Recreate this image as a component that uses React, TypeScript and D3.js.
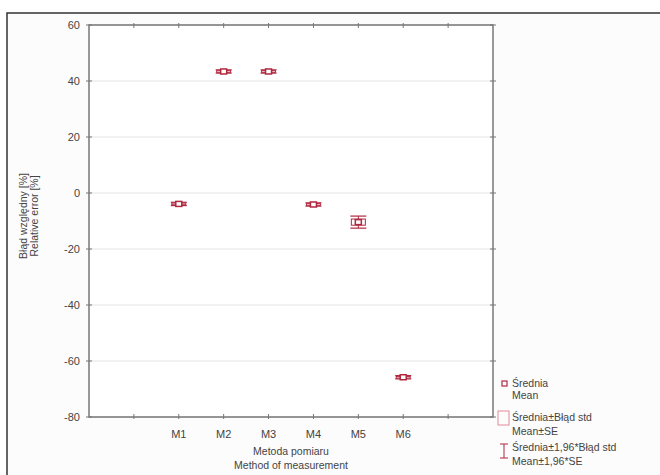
import React from "react";
import * as d3 from "d3";

const categories = ["", "M1", "M2", "M3", "M4", "M5", "M6", ""];
const methods = ["M1", "M2", "M3", "M4", "M5", "M6"];
const means = [-3.9, 43.4, 43.4, -4.1, -10.4, -65.8];
const stdErr = [0.3, 0.3, 0.3, 0.3, 1.1, 0.3];
const yTicks = [60, 40, 20, 0, -20, -40, -60, -80];

const W = 660, H = 475;
const M = { left: 89, top: 25, right: 493, bottom: 417 };
const red = "#b0283f";
const font = "'Liberation Sans', Arial, sans-serif";

export default function App() {
  const x = d3.scalePoint<string>().domain(categories.map((c, i) => String(i))).range([M.left, M.right]).padding(1);
  const y = d3.scaleLinear().domain([-80, 60]).range([M.bottom, M.top]);
  const xi = (i: number) => x(String(i)) as number;

  return (
    <svg width={W} height={H} style={{ position: "absolute", left: 0, top: 0, background: "#fff" }} fontFamily={font}>
      <rect x={7} y={13} width={700} height={500} fill="#fcfcfc" stroke="#333" strokeWidth={1.5} />
      <rect x={M.left} y={M.top} width={M.right - M.left} height={M.bottom - M.top} fill="#fff" />
      {yTicks.map((t) => (
        <g key={t}>
          <line x1={M.left} x2={M.right} y1={y(t)} y2={y(t)} stroke="#ececec" strokeWidth={1.5} />
          <line x1={M.left - 3} x2={M.left + 3} y1={y(t)} y2={y(t)} stroke="#777" />
          <line x1={M.right - 3} x2={M.right + 3} y1={y(t)} y2={y(t)} stroke="#777" />
          <text x={M.left - 9} y={y(t)} dy="0.35em" textAnchor="end" fontSize={11} fill="#444">{t}</text>
        </g>
      ))}
      {categories.map((c, i) => (
        <g key={i}>
          <line x1={xi(i)} x2={xi(i)} y1={M.bottom - 3} y2={M.bottom + 2} stroke="#777" />
          <line x1={xi(i)} x2={xi(i)} y1={M.top - 2} y2={M.top + 3} stroke="#777" />
          {c && <text x={xi(i)} y={M.bottom + 21} textAnchor="middle" fontSize={11} fill="#444">{c}</text>}
        </g>
      ))}
      <rect x={M.left} y={M.top} width={M.right - M.left} height={M.bottom - M.top} fill="none" stroke="#777" strokeWidth={1.5} />
      {methods.map((m, k) => {
        const cx = xi(k + 1);
        const cy = y(means[k]);
        const se = stdErr[k];
        const ci = 1.96 * se;
        const yt = y(means[k] + ci), yb = y(means[k] - ci);
        const bt = y(means[k] + se), bb = y(means[k] - se);
        return (
          <g key={m}>
            <line x1={cx} x2={cx} y1={yt} y2={yb} stroke={red} strokeWidth={1} />
            <line x1={cx - 8} x2={cx + 8} y1={yt} y2={yt} stroke={red} strokeWidth={1.2} />
            <line x1={cx - 8} x2={cx + 8} y1={yb} y2={yb} stroke={red} strokeWidth={1.2} />
            <rect x={cx - 7} y={bt} width={14} height={Math.max(bb - bt, 1)} fill="none" stroke={red} strokeWidth={1} />
            <rect x={cx - 3} y={cy - 2.5} width={6} height={5} fill="#fff" stroke={red} strokeWidth={1.5} />
          </g>
        );
      })}
      <text transform={`translate(27,${(M.top + M.bottom) / 2 - 5}) rotate(-90)`} textAnchor="middle" fontSize={10.5} fill="#444">Błąd względny [%]</text>
      <text transform={`translate(38,${(M.top + M.bottom) / 2 - 5}) rotate(-90)`} textAnchor="middle" fontSize={10.5} fill="#444">Relative error [%]</text>
      <text x={(M.left + M.right) / 2} y={455} textAnchor="middle" fontSize={10.5} fill="#444">Metoda pomiaru</text>
      <text x={(M.left + M.right) / 2} y={469} textAnchor="middle" fontSize={10.5} fill="#444">Method of measurement</text>
      <g fontSize={10.5} fill="#444">
        <rect x={502} y={381} width={5} height={5} fill="#fff" stroke={red} strokeWidth={1.2} />
        <text x={512} y={387}>Średnia</text>
        <text x={512} y={399}>Mean</text>
        <rect x={498} y={411} width={11} height={14} fill="none" stroke="#e08a9a" strokeWidth={1} />
        <text x={512} y={421}>Średnia±Błąd std</text>
        <text x={512} y={435}>Mean±SE</text>
        <line x1={504} x2={504} y1={444} y2={458} stroke={red} />
        <line x1={500} x2={508} y1={444} y2={444} stroke={red} />
        <line x1={500} x2={508} y1={458} y2={458} stroke={red} />
        <text x={512} y={451}>Średnia±1,96*Błąd std</text>
        <text x={512} y={465}>Mean±1,96*SE</text>
      </g>
    </svg>
  );
}
